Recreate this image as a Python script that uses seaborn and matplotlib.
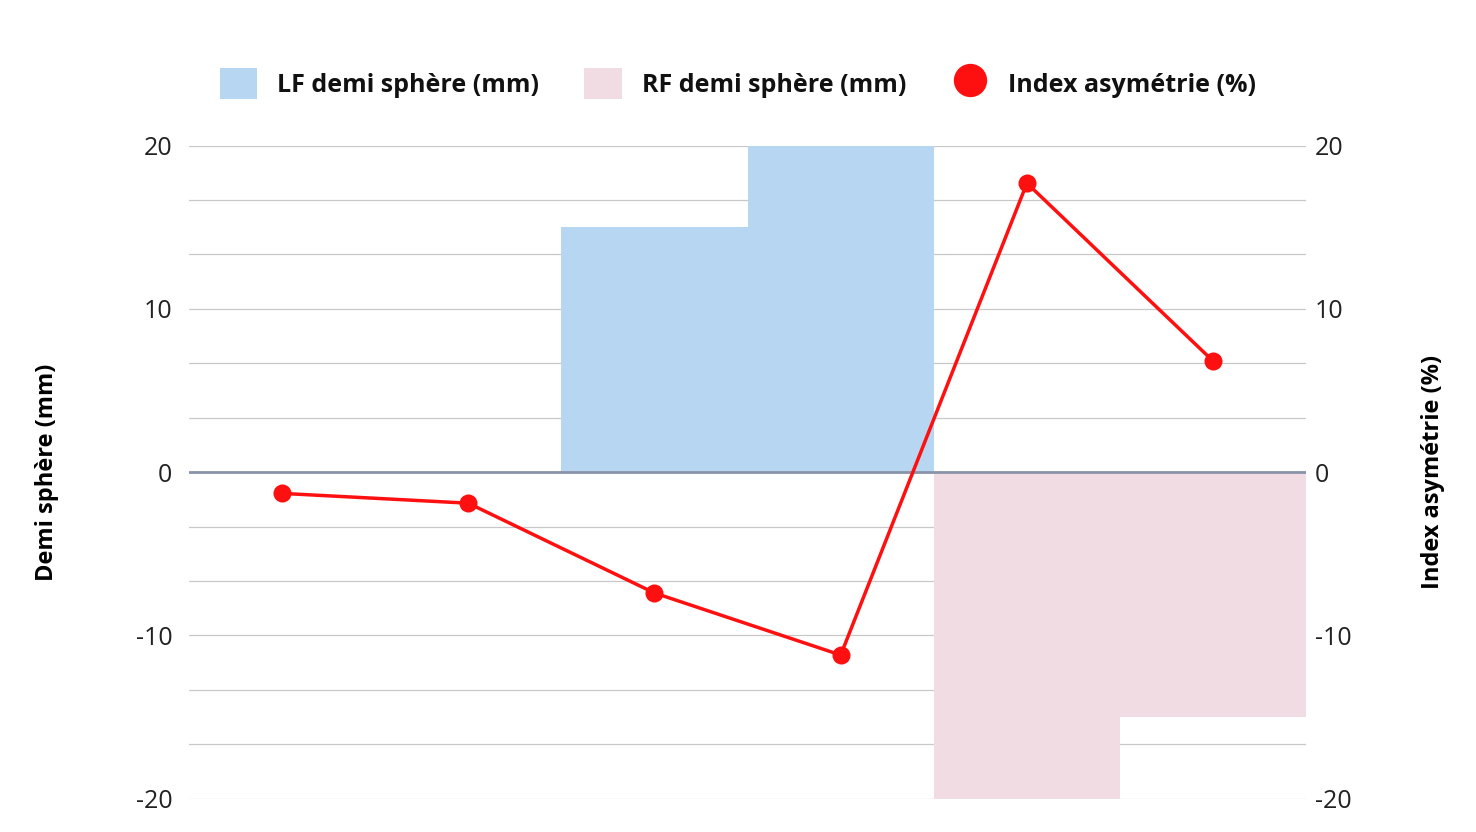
import numpy as np
import pandas as pd
import seaborn as sns
import matplotlib.pyplot as plt
from matplotlib.patches import Patch
from matplotlib.lines import Line2D

categories = ['C1', 'C2', 'C3', 'C4', 'C5', 'C6']
lf_values = [0, 0, 15, 20, 0, 0]
rf_values = [0, 0, 0, 0, -20, -15]
index_values = [-1.3, -1.9, -7.4, -11.2, 17.7, 6.8]

sns.set_theme(style='white')
plt.rcParams['font.family'] = ['Open Sans', 'DejaVu Sans']
plt.rcParams['axes.unicode_minus'] = False

fig, ax = plt.subplots(figsize=(14.76, 8.32), dpi=100)
fig.subplots_adjust(left=0.128, right=0.885, top=0.825, bottom=0.04)

df = pd.DataFrame({'cat': categories, 'lf': lf_values, 'rf': rf_values, 'idx': index_values})
sns.barplot(data=df, x='cat', y='lf', color='#b7d6f2', width=1.0, saturation=1, ax=ax,
            edgecolor='none', zorder=2)
sns.barplot(data=df, x='cat', y='rf', color='#f1dce3', width=1.0, saturation=1, ax=ax,
            edgecolor='none', zorder=2)

ax.set_ylim(-20, 20)
ax.set_xlim(-0.5, 5.5)
for g in np.linspace(-20, 20, 13):
    ax.axhline(g, color='#c8c8c8', lw=0.9, zorder=1)
ax.axhline(0, color='#8a94a8', lw=2, zorder=3)
ax.set_yticks([-20, -10, 0, 10, 20])
ax.set_xticks([])
ax.set_xlabel('')
ax.set_ylabel('Demi sphère (mm)', fontsize=17, fontweight='bold', color='black', labelpad=55)
ax.tick_params(axis='y', labelsize=18, length=0, pad=12, labelcolor='#222222')
for s in ax.spines.values():
    s.set_visible(False)

ax2 = ax.twinx()
sns.lineplot(data=df, x='cat', y='idx', color='#ff1010', lw=2.5, marker='o', markersize=13,
             markeredgewidth=0, ax=ax2, zorder=5)
ax2.set_ylim(-20, 20)
ax2.set_yticks([-20, -10, 0, 10, 20])
ax2.set_ylabel('Index asymétrie (%)', fontsize=17, fontweight='bold', color='black', labelpad=50)
ax2.tick_params(axis='y', labelsize=18, length=0, pad=6, labelcolor='#222222')
for s in ax2.spines.values():
    s.set_visible(False)

handles = [Patch(facecolor='#b7d6f2', edgecolor='none'),
           Patch(facecolor='#f1dce3', edgecolor='none'),
           Line2D([], [], marker='o', color='none', markerfacecolor='#ff1010',
                  markeredgewidth=0, markersize=24)]
fig.legend(handles, ['LF demi sphère (mm)', 'RF demi sphère (mm)', 'Index asymétrie (%)'],
           loc='upper center', bbox_to_anchor=(0.5, 0.945), ncol=3, frameon=False,
           prop={'size': 18, 'weight': 'bold'}, labelcolor='#111111',
           handlelength=1.5, handleheight=1.5, columnspacing=1.8)

fig.savefig('out.png', dpi=100)
